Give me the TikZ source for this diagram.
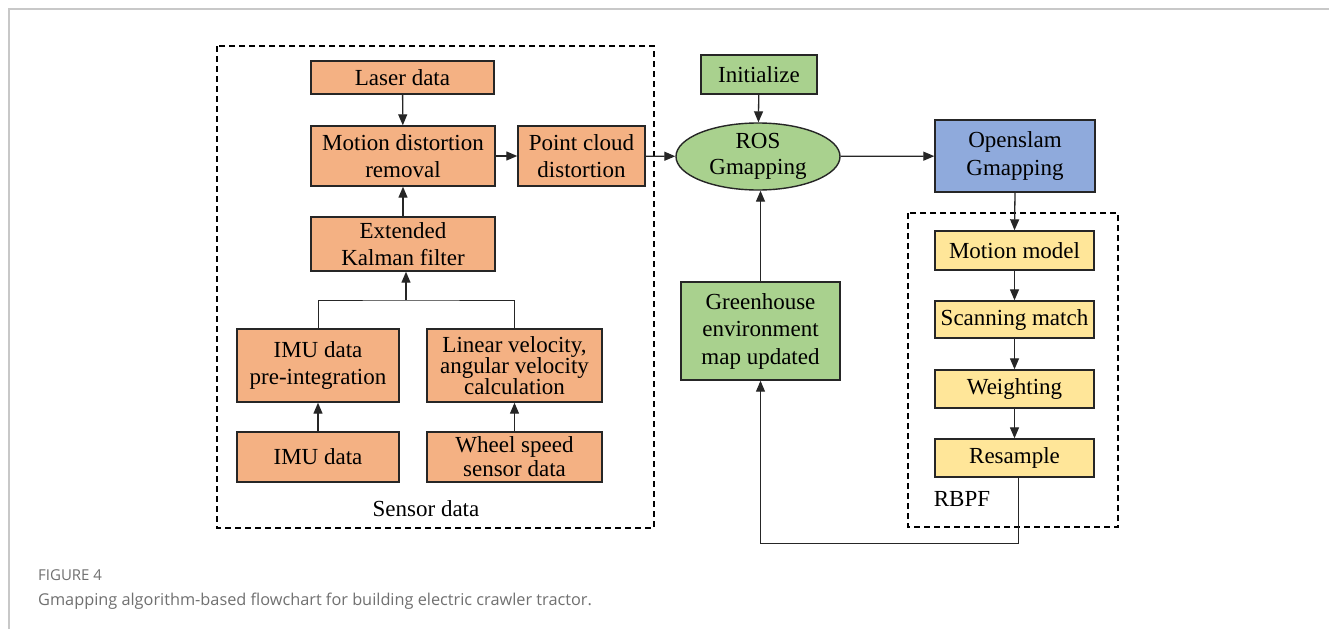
\documentclass[tikz,border=0pt]{standalone}
\usepackage{fontspec}
\setmainfont{Liberation Serif}
\newfontfamily\capfont{Open Sans}
\usetikzlibrary{arrows.meta,shapes.geometric,calc}
\definecolor{orangef}{HTML}{F4B183}
\definecolor{greenf}{HTML}{A9D18E}
\definecolor{bluef}{HTML}{8FAADC}
\definecolor{yellowf}{HTML}{FFE699}
\definecolor{edgec}{HTML}{262626}
\definecolor{framec}{HTML}{C8C8C8}
\definecolor{capc}{HTML}{707070}
\tikzset{
  box/.style={draw=edgec, line width=1.4pt, align=center, inner sep=0pt,
    font=\fontsize{23}{27.5}\selectfont},
  obox/.style={box, fill=orangef},
  gbox/.style={box, fill=greenf},
  bbox/.style={box, fill=bluef},
  ybox/.style={box, fill=yellowf},
  arr/.style={draw=edgec, line width=1.3pt, -{Triangle[length=11pt,width=9pt]}},
  ln/.style={draw=edgec, line width=1pt},
  dbox/.style={draw=black, line width=1.5pt, dash pattern=on 6pt off 4pt},
  lbl/.style={font=\fontsize{23}{27}\selectfont, inner sep=0pt},
}
\begin{document}
\begin{tikzpicture}[x=1pt,y=-1pt]
\useasboundingbox (0,0) rectangle (1329,629);
\fill[white] (0,0) rectangle (1329,629);
% frame
\draw[framec, line width=1.2pt] (9,629) -- (9,9) -- (1329,9);
% dashed groups
\draw[dbox] (217,46) rectangle (654,528);
\draw[dbox] (908,213) rectangle (1118,527);
% sensor nodes
\node[obox, minimum width=183pt, minimum height=33pt] (laser) at (402.5,77.5) {Laser data};
\node[obox, minimum width=184pt, minimum height=60pt] (motion) at (403,156) {Motion distortion\\removal};
\node[obox, minimum width=127pt, minimum height=60pt] (pcd) at (581.5,156) {Point cloud\\distortion};
\node[obox, minimum width=184pt, minimum height=54pt] (ekf) at (403,244) {Extended\\Kalman filter};
\node[obox, minimum width=162pt, minimum height=73pt] (imupre) at (318,365.5) {IMU data\\pre-integration};
\node[obox, minimum width=175pt, minimum height=73pt, font=\fontsize{23}{21}\selectfont] (linvel) at (514.5,365.5) {Linear velocity,\\angular velocity\\calculation};
\node[obox, minimum width=162pt, minimum height=50pt] (imu) at (318,457) {IMU data};
\node[obox, minimum width=175pt, minimum height=50pt, font=\fontsize{23}{24}\selectfont] (wheel) at (514.5,457) {Wheel speed\\sensor data};
\node[lbl] (sensorlbl) at (426,509) {Sensor data};
% middle nodes
\node[gbox, minimum width=116pt, minimum height=39pt] (init) at (759,74.5) {Initialize};
\node[gbox, ellipse, minimum width=164pt, minimum height=67pt, font=\fontsize{23}{26}\selectfont] (ros) at (758,156.5) {ROS\\Gmapping};
\node[gbox, minimum width=159pt, minimum height=98pt] (gh) at (760.5,331) {Greenhouse\\environment\\map updated};
% right nodes
\node[bbox, minimum width=160pt, minimum height=72pt] (open) at (1015,156) {Openslam\\Gmapping};
\node[ybox, minimum width=159pt, minimum height=39pt] (mm) at (1014.5,250.5) {Motion model};
\node[ybox, minimum width=159pt, minimum height=37pt] (sm) at (1014.5,319.5) {Scanning match};
\node[ybox, minimum width=159pt, minimum height=38pt] (wt) at (1014.5,389) {Weighting};
\node[ybox, minimum width=159pt, minimum height=38pt] (rs) at (1014.5,458) {Resample};
\node[lbl] (rbpf) at (962,499) {RBPF};
% connectors
\draw[arr] (laser) -- (motion);
\draw[arr] (ekf) -- (motion);
\draw[arr] (motion) -- (pcd);
\draw[arr] (imu) -- (imupre);
\draw[arr] (wheel) -- (linvel);
\coordinate (j) at (406,300);
\draw[ln] (imupre.north) |- (j) -| (linvel.north);
\draw[arr] (j) -- (j |- ekf.south);
\draw[arr] (pcd) -- (ros);
\draw[arr] (init) -- (ros);
\draw[arr] (ros) -- (open);
\draw[arr] (open.south) -- (mm.north);
\draw[arr] (mm) -- (sm);
\draw[arr] (sm) -- (wt);
\draw[arr] (wt) -- (rs);
\draw[arr] (gh.north) -- (gh.north |- ros.south);
\coordinate (fb) at (1018,543);
\draw[ln, -{Triangle[length=11pt,width=9pt]}] (rs.south -| fb) -- (fb) -| (gh.south);
% caption
\node[anchor=base west, inner sep=0pt, text=capc, font=\capfont\fontsize{15}{17}\selectfont] (figno) at (38,580) {FIGURE 4};
\node[anchor=base west, inner sep=0pt, text=capc, font=\capfont\fontsize{16.3}{19}\selectfont] (cap) at (38,605) {Gmapping algorithm-based flowchart for building electric crawler tractor.};
\end{tikzpicture}
\end{document}
